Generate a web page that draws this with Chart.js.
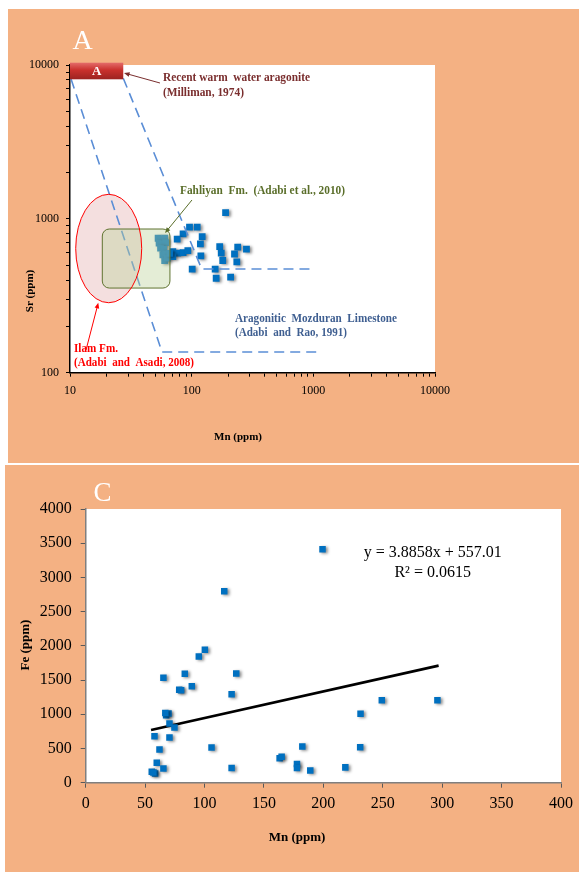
<!DOCTYPE html>
<html>
<head>
<meta charset="utf-8">
<script src="https://cdn.jsdelivr.net/npm/chart.js@4.4.1/dist/chart.umd.min.js"></script>
<style>
  body { margin: 0; background: #fff; width: 579px; height: 872px; position: relative; overflow: hidden; }
  .panel { position: absolute; background: #f4b183; }
  #panelA { left: 8px; top: 9px; width: 571px; height: 454px; }
  #panelC { left: 5px; top: 465px; width: 574px; height: 407px; }
  canvas { display: block; }
</style>
</head>
<body>
<div class="panel" id="panelA"><canvas id="chartA" width="571" height="454"></canvas></div>
<div class="panel" id="panelC"><canvas id="chartC" width="574" height="407"></canvas></div>
<script>
// ---- panel A : Sr vs Mn (log-log) ----
const mnSamplesA = [190, 96, 111, 85, 76, 122, 118, 119, 101, 70, 77, 85, 93, 70, 66, 170, 175, 180, 239, 225, 235, 282, 156, 159, 209];
const srSamplesA = [1099, 883, 883, 798, 738, 767, 687, 574, 471, 613, 598, 604, 622, 569, 597, 660, 598, 536, 655, 591, 525, 636, 471, 411, 418];
// samples that sit under the Fahliyan field
const mnSamplesBox = [53, 56.5, 60, 54, 57.5, 61, 55.5, 59, 58, 61, 60, 63];
const srSamplesBox = [748, 738, 748, 695, 688, 701, 645, 636, 583, 592, 535, 555];
// dashed field of aragonitic Mozduran limestone
const mozduranLowMn = [10.2, 57, 1134];
const mozduranLowSr = [8110, 136.3, 136.3];
const mozduranHighMn = [27.4, 120.9, 969];
const mozduranHighSr = [8197, 472, 472];
const xMajorA = [10, 100, 1000, 10000];
const yMajorA = [100, 1000, 10000];

// ---- panel C : Fe vs Mn ----
const mnC = [55.6, 58.4, 57, 59.8, 65.4, 57.9, 62.1, 65.4, 67.7, 69.7, 67, 70.5, 70.5, 74.7, 78.7, 80.3, 83.4, 89.3, 95.2, 100.3,
             105.9, 116.6, 122.8, 122.8, 126.7, 163.2, 164.9, 177.8, 177.8, 182.3, 189, 199.3, 218.5, 231, 231.3, 249.2, 296];
const feC = [160, 136, 150, 291, 209, 680, 485, 1534, 985, 1010, 1020, 864, 660, 806, 1359, 1350, 1592, 1408, 1845, 1942,
             515, 2798, 1291, 214, 1597, 359, 379, 272, 214, 529, 180, 3412, 224, 517, 1009, 1204, 1204];
const trendMn = [55, 297];
const trendFe = [770.7, 1711.1];
const xTicksC = [0, 50, 100, 150, 200, 250, 300, 350, 400];
const yTicksC = [0, 500, 1000, 1500, 2000, 2500, 3000, 3500, 4000];

const serif = 'Liberation Serif';
const blue = '#0070c0';

function logTicks(lo, hi) {
  const out = [];
  for (let d = lo; d < hi; d *= 10) for (let m = 1; m < 10; m++) out.push(d * m);
  out.push(hi);
  return out;
}
function pts(xs, ys) { return xs.map((x, i) => ({ x: x, y: ys[i] })); }

function text(ctx, str, x, y, font, color, align, maxW) {
  ctx.save();
  ctx.font = font;
  ctx.fillStyle = color;
  ctx.textAlign = align || 'left';
  ctx.textBaseline = 'middle';
  if (maxW) ctx.fillText(str, x, y, maxW); else ctx.fillText(str, x, y);
  ctx.restore();
}
function vtext(ctx, str, x, y, font, color) {
  ctx.save();
  ctx.translate(x, y);
  ctx.rotate(-Math.PI / 2);
  text(ctx, str, 0, 0, font, color, 'center');
  ctx.restore();
}
function arrow(ctx, x1, y1, x2, y2, color) {
  const a = Math.atan2(y2 - y1, x2 - x1), h = 6;
  ctx.save();
  ctx.strokeStyle = color; ctx.fillStyle = color; ctx.lineWidth = 1;
  ctx.beginPath(); ctx.moveTo(x1, y1); ctx.lineTo(x2 - Math.cos(a) * 4, y2 - Math.sin(a) * 4); ctx.stroke();
  ctx.beginPath();
  ctx.moveTo(x2, y2);
  ctx.lineTo(x2 - h * Math.cos(a - 0.4), y2 - h * Math.sin(a - 0.4));
  ctx.lineTo(x2 - h * Math.cos(a + 0.4), y2 - h * Math.sin(a + 0.4));
  ctx.closePath(); ctx.fill();
  ctx.restore();
}

const whiteArea = {
  id: 'whiteArea',
  beforeDraw(chart) {
    const { ctx, chartArea: a } = chart;
    ctx.save();
    ctx.fillStyle = '#ffffff';
    ctx.fillRect(a.left, a.top, a.right - a.left, a.bottom - a.top);
    ctx.restore();
  }
};

const markerShadow = {
  id: 'markerShadow',
  beforeDatasetDraw(chart, args) {
    if (!chart.data.datasets[args.index].shadow) return;
    const ctx = chart.ctx;
    ctx.save();
    ctx.shadowColor = 'rgba(0,0,0,0.45)';
    ctx.shadowBlur = 3;
    ctx.shadowOffsetX = 2;
    ctx.shadowOffsetY = 1;
  },
  afterDatasetDraw(chart, args) {
    if (chart.data.datasets[args.index].shadow) chart.ctx.restore();
  }
};

// literature fields, in Mn / Sr units
const ilamField = { mn: [11.14, 38.85], sr: [285, 1444] };
const fahliyanField = { mn: [18.43, 66.3], sr: [355, 859] };
const millimanField = { mn: [10, 27.4], sr: [8073, 10350] };

const annotA = {
  id: 'annotA',
  beforeDatasetsDraw(chart) {
    const { ctx, scales: { x, y } } = chart;
    const x0 = x.getPixelForValue(ilamField.mn[0]), x1 = x.getPixelForValue(ilamField.mn[1]);
    const y0 = y.getPixelForValue(ilamField.sr[1]), y1 = y.getPixelForValue(ilamField.sr[0]);
    ctx.save();
    ctx.beginPath();
    ctx.ellipse((x0 + x1) / 2, (y0 + y1) / 2, (x1 - x0) / 2, (y1 - y0) / 2, 0, 0, Math.PI * 2);
    ctx.fillStyle = 'rgba(220,150,150,0.3)';
    ctx.fill();
    ctx.restore();
  },
  afterDatasetsDraw(chart) {
    const { ctx, scales: { x, y } } = chart;
    const px = v => x.getPixelForValue(v), py = v => y.getPixelForValue(v);

    // Fahliyan field (rounded box)
    const bx0 = px(fahliyanField.mn[0]), bx1 = px(fahliyanField.mn[1]);
    const by0 = py(fahliyanField.sr[1]), by1 = py(fahliyanField.sr[0]);
    const r = 7;
    ctx.save();
    ctx.beginPath();
    ctx.moveTo(bx0 + r, by0);
    ctx.arcTo(bx1, by0, bx1, by1, r);
    ctx.arcTo(bx1, by1, bx0, by1, r);
    ctx.arcTo(bx0, by1, bx0, by0, r);
    ctx.arcTo(bx0, by0, bx1, by0, r);
    ctx.closePath();
    ctx.fillStyle = 'rgba(187,210,152,0.4)';
    ctx.fill();
    ctx.strokeStyle = '#5f7330';
    ctx.lineWidth = 1;
    ctx.stroke();

    // Ilam ellipse outline
    const ex0 = px(ilamField.mn[0]), ex1 = px(ilamField.mn[1]);
    const ey0 = py(ilamField.sr[1]), ey1 = py(ilamField.sr[0]);
    ctx.beginPath();
    ctx.ellipse((ex0 + ex1) / 2, (ey0 + ey1) / 2, (ex1 - ex0) / 2, (ey1 - ey0) / 2, 0, 0, Math.PI * 2);
    ctx.strokeStyle = '#ff0000';
    ctx.stroke();

    // Milliman box
    const mx0 = px(millimanField.mn[0]), mx1 = px(millimanField.mn[1]);
    const my0 = py(millimanField.sr[1]), my1 = py(millimanField.sr[0]);
    const g = ctx.createLinearGradient(0, my0, 0, my1);
    g.addColorStop(0, '#e46c6a');
    g.addColorStop(0.45, '#c9302c');
    g.addColorStop(1, '#9c2320');
    ctx.fillStyle = g;
    ctx.fillRect(mx0, my0, mx1 - mx0, my1 - my0);
    ctx.restore();
    text(ctx, 'A', (mx0 + mx1) / 2, (my0 + my1) / 2 + 1, 'bold 13px ' + serif, '#ffffff', 'center');

    // labels and arrows
    const maroon = '#7a2e2e', olive = '#5a6e2a', red = '#ff0000', steel = '#3f5f91';
    const f = 'bold 11.5px ' + serif;
    text(ctx, 'Recent warm  water aragonite', px(58.1), py(8197), f, maroon, 'left', 147);
    text(ctx, '(Milliman, 1974)', px(58.1), py(6546), f, maroon, 'left', 81);
    arrow(ctx, px(54.9), py(7638), px(27.8), py(8872), maroon);
    text(ctx, 'Fahliyan  Fm.  (Adabi et al., 2010)', px(80.2), py(1517), f, olive, 'left', 165);
    arrow(ctx, px(100.6), py(1326), px(60.4), py(809), olive);
    text(ctx, 'Ilam Fm.', px(10.79), py(141.9), f, red, 'left', 44);
    text(ctx, '(Adabi  and  Asadi, 2008)', px(10.79), py(115.1), f, red, 'left', 120);
    arrow(ctx, px(13.54), py(140.4), px(17.08), py(285), red);
    text(ctx, 'Aragonitic  Mozduran  Limestone', px(227), py(223.4), f, steel, 'left', 162);
    text(ctx, '(Adabi  and  Rao, 1991)', px(227), py(181.1), f, steel, 'left', 112);

    // panel letter and axis titles
    text(ctx, 'A', 64.5, 33, '28px ' + serif, '#ffffff', 'left');
    vtext(ctx, 'Sr (ppm)', 22, 282, 'bold 11px ' + serif, '#000');
    text(ctx, 'Mn (ppm)', 230, 428, 'bold 11px ' + serif, '#000', 'center');
  }
};

const dashed = {
  type: 'line', showLine: true, fill: false, pointRadius: 0,
  borderColor: '#5b8ed6', borderWidth: 1.6, borderDash: [10, 6]
};

new Chart(document.getElementById('chartA').getContext('2d'), {
  type: 'scatter',
  data: {
    datasets: [
      Object.assign({ label: 'Mozduran low', data: pts(mozduranLowMn, mozduranLowSr) }, dashed),
      Object.assign({ label: 'Mozduran high', data: pts(mozduranHighMn, mozduranHighSr) }, dashed),
      { label: 'Samples', data: pts(mnSamplesA, srSamplesA), pointStyle: 'rect', pointRadius: 4.8,
        backgroundColor: blue, borderColor: blue, borderWidth: 0, shadow: true },
      { label: 'Samples (Fahliyan field)', data: pts(mnSamplesBox, srSamplesBox), pointStyle: 'rect', pointRadius: 4.8,
        backgroundColor: blue, borderColor: blue, borderWidth: 0, shadow: true }
    ]
  },
  options: {
    responsive: false,
    animation: false,
    layout: { padding: { left: 0, top: 56, right: 144, bottom: 0 } },
    plugins: { legend: { display: false }, tooltip: { enabled: false } },
    scales: {
      x: {
        type: 'logarithmic', min: 10, max: 10000,
        afterBuildTicks: s => { s.ticks = logTicks(10, 10000).map(v => ({ value: v })); },
        afterFit: s => { s.height = 90.3; },
        grid: { drawOnChartArea: false, drawTicks: true, tickLength: 4, tickColor: '#000' },
        border: { color: '#000', width: 1.5 },
        ticks: { autoSkip: false, maxRotation: 0, padding: 7, color: '#000',
                 font: { family: serif, size: 12 },
                 callback: v => xMajorA.includes(v) ? String(v) : '' }
      },
      y: {
        type: 'logarithmic', min: 100, max: 10000,
        afterBuildTicks: s => { s.ticks = logTicks(100, 10000).map(v => ({ value: v })); },
        afterFit: s => { s.width = 62; },
        grid: { drawOnChartArea: false, drawTicks: true, tickLength: 4, tickColor: '#000' },
        border: { color: '#000', width: 1.5 },
        ticks: { autoSkip: false, padding: 7, color: '#000',
                 font: { family: serif, size: 12 },
                 callback: v => yMajorA.includes(v) ? String(v) : '' }
      }
    }
  },
  plugins: [whiteArea, markerShadow, annotA]
});

// ---- panel C ----
const annotC = {
  id: 'annotC',
  afterDatasetsDraw(chart) {
    const { ctx, scales: { x, y } } = chart;
    text(ctx, 'y = 3.8858x + 557.01', x.getPixelForValue(292), y.getPixelForValue(3358), '16px ' + serif, '#000', 'center');
    text(ctx, 'R² = 0.0615', x.getPixelForValue(292), y.getPixelForValue(3070), '16px ' + serif, '#000', 'center');
    text(ctx, 'C', 88.5, 29, '27px ' + serif, '#ffffff', 'left');
    vtext(ctx, 'Fe (ppm)', 21, 180, 'bold 13px ' + serif, '#000');
    text(ctx, 'Mn (ppm)', 292, 373, 'bold 13px ' + serif, '#000', 'center');
  }
};

new Chart(document.getElementById('chartC').getContext('2d'), {
  type: 'scatter',
  data: {
    datasets: [
      { label: 'Fe', data: pts(mnC, feC), pointStyle: 'rect', pointRadius: 4.6,
        backgroundColor: blue, borderColor: blue, borderWidth: 0, shadow: true },
      { label: 'Linear (Fe)', type: 'line', data: pts(trendMn, trendFe), showLine: true, fill: false,
        pointRadius: 0, borderColor: '#000', borderWidth: 2.6 }
    ]
  },
  options: {
    responsive: false,
    animation: false,
    layout: { padding: { left: 0, top: 44, right: 18, bottom: 0 } },
    plugins: { legend: { display: false }, tooltip: { enabled: false } },
    scales: {
      x: {
        type: 'linear', min: 0, max: 400,
        afterBuildTicks: s => { s.ticks = xTicksC.map(v => ({ value: v })); },
        afterFit: s => { s.height = 89.3; },
        grid: { drawOnChartArea: false, drawTicks: true, tickLength: 5, tickColor: '#595959' },
        border: { color: '#7f7f7f', width: 1.5 },
        ticks: { autoSkip: false, maxRotation: 0, padding: 6, color: '#000', font: { family: serif, size: 16 },
                 callback: v => String(v) }
      },
      y: {
        type: 'linear', min: 0, max: 4000,
        afterBuildTicks: s => { s.ticks = yTicksC.map(v => ({ value: v })); },
        afterFit: s => { s.width = 80.7; },
        grid: { drawOnChartArea: false, drawTicks: true, tickLength: 5, tickColor: '#595959' },
        border: { color: '#7f7f7f', width: 1.5 },
        ticks: { autoSkip: false, padding: 9, color: '#000', font: { family: serif, size: 16 },
                 callback: v => String(v) }
      }
    }
  },
  plugins: [whiteArea, markerShadow, annotC]
});
</script>
</body>
</html>
